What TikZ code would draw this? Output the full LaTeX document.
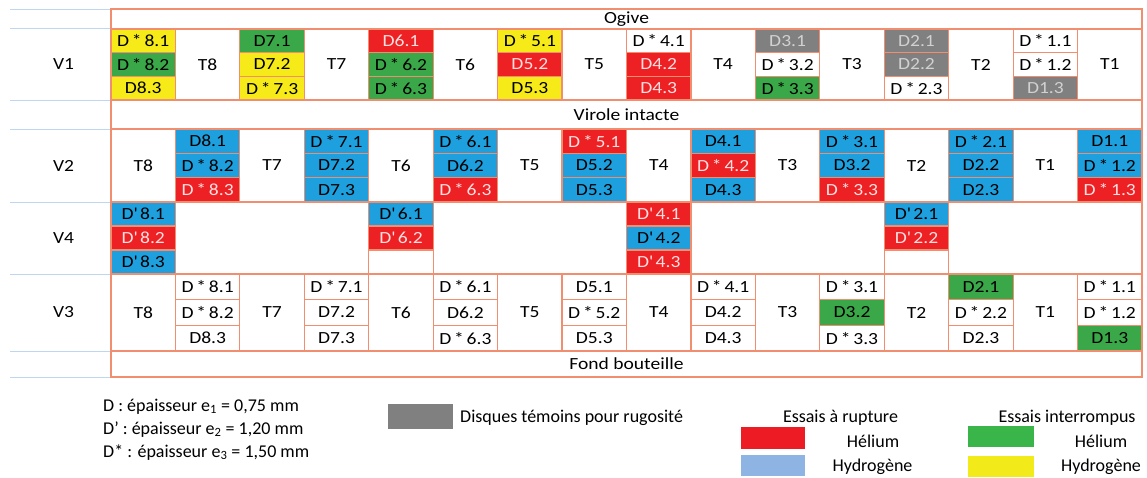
\documentclass[tikz,border=0pt]{standalone}
\usepackage{fontspec}
\setmainfont{Carlito}
\newfontfamily\cellfont[FakeStretch=1.15]{Carlito}
\usetikzlibrary{positioning}

\definecolor{tabline}{RGB}{242,142,112}
\definecolor{rowline}{RGB}{190,214,240}
\definecolor{cellred}{RGB}{237,32,36}
\definecolor{cellblue}{RGB}{30,160,222}
\definecolor{cellgreen}{RGB}{58,168,72}
\definecolor{cellyellow}{RGB}{246,234,24}
\definecolor{cellgrey}{RGB}{128,128,128}
\definecolor{legred}{RGB}{237,28,36}
\definecolor{legblue}{RGB}{141,180,226}
\definecolor{leggreen}{RGB}{57,181,74}
\definecolor{legyellow}{RGB}{242,235,25}

\newcommand{\Ds}{D\,*\,}
\newcommand{\Dq}{D\textquotesingle\,}

\begin{document}
\begin{tikzpicture}[
    x=1pt, y=-1pt,
    cell/.style={draw=tabline, line width=1.2pt, fill=white, inner sep=0pt, outer sep=0pt,
        minimum width=64.44pt, minimum height=#1, anchor=north west,
        font=\cellfont\fontsize{17}{20}\selectfont},
    band/.style={draw=tabline, line width=1.2pt, fill=white, inner sep=0pt, outer sep=0pt,
        minimum width=1031pt, minimum height=#1, anchor=north west,
        font=\cellfont\fontsize{17}{20}\selectfont},
    rhe/.style={fill=cellred, text=white!88!red},
    rhy/.style={fill=cellblue},
    ihe/.style={fill=cellgreen},
    ihy/.style={fill=cellyellow},
    tem/.style={fill=cellgrey, text=white!82!black},
    nul/.style={fill=white},
    vlab/.style={font=\cellfont\fontsize{17}{20}\selectfont},
    swatch/.style={inner sep=0pt, outer sep=0pt, anchor=north west},
    legend/.style={font=\fontsize{18}{22}\selectfont, inner sep=0pt}
]
    \useasboundingbox (0,0) rectangle (1147,478);

    % left column
    \foreach \y in {9.5,28.5,100,129,202,274,351,377}
        \draw[rowline, line width=0.8pt] (10,\y) -- (110,\y);
    \node[vlab] (v1) at (63.5,64.5) {V1};
    \node[vlab] (v2) at (63.5,165.5) {V2};
    \node[vlab] (v4) at (63.5,238) {V4};
    \node[vlab] (v3) at (63.5,312.5) {V3};

    % bands
    \node[band=19.5pt] (ogive) at (111,9.5) {Ogive};
    \node[band=29pt] (virole) at (111,100) {Virole intacte};
    \node[band=26pt] (fond) at (111,351) {Fond bouteille};

    % V1
    \foreach \i/\k/\pa/\sa/\pb/\sb/\pc/\sc in {
        0/8/\Ds/ihy/\Ds/ihe/D/ihy, 2/7/D/ihe/D/ihy/\Ds/ihy,
        4/6/D/rhe/\Ds/ihe/\Ds/ihe, 6/5/\Ds/ihy/D/rhe/D/ihy,
        8/4/\Ds/nul/D/rhe/D/rhe, 10/3/D/tem/\Ds/nul/\Ds/ihe,
        12/2/D/tem/D/tem/\Ds/nul, 14/1/\Ds/nul/\Ds/nul/D/tem}{
        \node[cell=23.67pt, \sa] (a\k-1) at ({111+64.44*\i},29) {\pa\k.1};
        \node[cell=23.67pt, \sb, below=0pt of a\k-1] (a\k-2) {\pb\k.2};
        \node[cell=23.67pt, \sc, below=0pt of a\k-2] (a\k-3) {\pc\k.3};
        \node[cell=71pt, right=0pt of a\k-2] (ta\k) {T\k};
    }

    % V2
    \foreach \i/\k/\pa/\sa/\pb/\sb/\pc/\sc in {
        0/8/D/rhy/\Ds/rhy/\Ds/rhe, 2/7/\Ds/rhy/D/rhy/D/rhy,
        4/6/\Ds/rhy/D/rhy/\Ds/rhe, 6/5/\Ds/rhe/D/rhy/D/rhy,
        8/4/D/rhy/\Ds/rhe/D/rhy, 10/3/\Ds/rhy/D/rhy/\Ds/rhe,
        12/2/\Ds/rhy/D/rhy/D/rhy, 14/1/D/rhy/\Ds/rhy/\Ds/rhe}{
        \node[cell=73pt] (tb\k) at ({111+64.44*\i},129) {T\k};
        \node[cell=24.33pt, \sa] (b\k-1) at (tb\k.north east) {\pa\k.1};
        \node[cell=24.33pt, \sb, below=0pt of b\k-1] (b\k-2) {\pb\k.2};
        \node[cell=24.33pt, \sc, below=0pt of b\k-2] (b\k-3) {\pc\k.3};
    }

    % V4
    \foreach \i/\k/\sa/\sb/\sc/\tc in {
        0/8/rhy/rhe/rhy/{\Dq8.3}, 4/6/rhy/rhe/nul/{},
        8/4/rhe/rhy/rhe/{\Dq4.3}, 12/2/rhy/rhe/nul/{}}{
        \node[cell=24pt, \sa] (d\k-1) at ({111+64.44*\i},202) {\Dq\k.1};
        \node[cell=24pt, \sb, below=0pt of d\k-1] (d\k-2) {\Dq\k.2};
        \node[cell=24pt, \sc, below=0pt of d\k-2] (d\k-3) {\tc};
    }

    % V3
    \foreach \i/\k/\pa/\sa/\pb/\sb/\pc/\sc in {
        0/8/\Ds/nul/\Ds/nul/D/nul, 2/7/\Ds/nul/D/nul/D/nul,
        4/6/\Ds/nul/D/nul/\Ds/nul, 6/5/D/nul/\Ds/nul/D/nul,
        8/4/\Ds/nul/D/nul/D/nul, 10/3/\Ds/nul/D/ihe/\Ds/nul,
        12/2/D/ihe/\Ds/nul/D/nul, 14/1/\Ds/nul/\Ds/nul/D/ihe}{
        \node[cell=77pt] (tc\k) at ({111+64.44*\i},274) {T\k};
        \node[cell=25.67pt, \sa] (c\k-1) at (tc\k.north east) {\pa\k.1};
        \node[cell=25.67pt, \sb, below=0pt of c\k-1] (c\k-2) {\pb\k.2};
        \node[cell=25.67pt, \sc, below=0pt of c\k-2] (c\k-3) {\pc\k.3};
    }

    % outer frame
    \draw[tabline, line width=2pt] (111,9.5) rectangle (1142,377);
    \draw[tabline, line width=0.8pt] (110,9.5) -- (110,377);

    % thickness legend
    \node[legend, anchor=base west] (e1) at (103,411) {D : épaisseur e\textsubscript{1} = 0,75 mm};
    \node[legend, anchor=base west] (e2) at (103,434) {D’ : épaisseur e\textsubscript{2} = 1,20 mm};
    \node[legend, anchor=base west] (e3) at (103,457) {D* : épaisseur e\textsubscript{3} = 1,50 mm};

    % colour legend
    \node[swatch, fill=cellgrey, minimum width=65pt, minimum height=25pt] (kgrey) at (388,404) {};
    \node[legend, anchor=base west] (lgrey) at (460,422) {Disques témoins pour rugosité};

    \node[legend, anchor=base] (rupt) at (840.5,422) {Essais à rupture};
    \node[swatch, fill=legred, minimum width=64pt, minimum height=22pt] (kred) at (741,427) {};
    \node[legend, anchor=base] (lred) at (873,447) {Hélium};
    \node[swatch, fill=legblue, minimum width=64pt, minimum height=21pt] (kblue) at (741,455) {};
    \node[legend, anchor=base] (lblue) at (872.5,471) {Hydrogène};

    \node[legend, anchor=base] (inter) at (1067,422) {Essais interrompus};
    \node[swatch, fill=leggreen, minimum width=66pt, minimum height=21pt] (kgreen) at (968,426) {};
    \node[legend, anchor=base] (lgreen) at (1101,447) {Hélium};
    \node[swatch, fill=legyellow, minimum width=66pt, minimum height=21pt] (kyellow) at (968,456) {};
    \node[legend, anchor=base] (lyellow) at (1101,471) {Hydrogène};
\end{tikzpicture}
\end{document}
